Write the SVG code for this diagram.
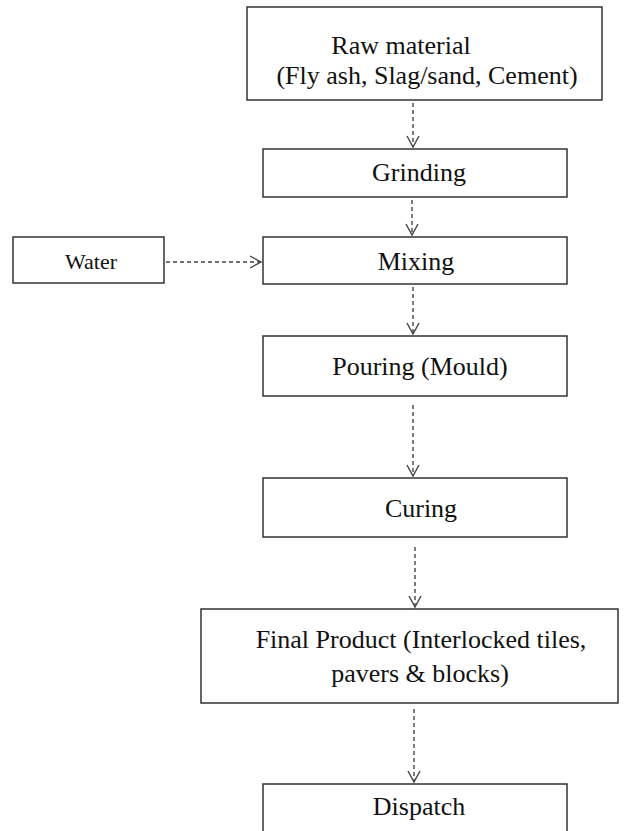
<svg xmlns="http://www.w3.org/2000/svg" width="628" height="831" viewBox="0 0 628 831">
<defs>
<style>
.box{fill:#fff;stroke:#333;stroke-width:1.5}
.t{font-family:"Liberation Serif","Times New Roman",serif;font-size:26px;fill:#111;text-anchor:middle}
.ts{font-family:"Liberation Serif","Times New Roman",serif;font-size:22px;fill:#111;text-anchor:middle}
.c{fill:none;stroke:#444;stroke-width:1.4;stroke-dasharray:4 3}
</style>
<marker id="ah" markerWidth="14" markerHeight="14" viewBox="0 0 14 14" refX="12" refY="7" orient="auto" markerUnits="userSpaceOnUse">
<path d="M1,1 L12,7 L1,13" fill="none" stroke="#444" stroke-width="1.4"/>
</marker>
</defs>
<rect width="628" height="831" fill="#fff"/>
<g id="raw">
<rect class="box" x="247" y="7" width="355" height="93"/>
<text class="t" x="401" y="54">Raw material</text>
<text class="t" x="427" y="84">(Fly ash, Slag/sand, Cement)</text>
</g>
<g id="grinding">
<rect class="box" x="263" y="149" width="304" height="48"/>
<text class="t" x="419" y="181">Grinding</text>
</g>
<g id="water">
<rect class="box" x="13" y="237" width="151" height="46"/>
<text class="ts" x="91" y="269">Water</text>
</g>
<g id="mixing">
<rect class="box" x="263" y="237" width="304" height="47"/>
<text class="t" x="416" y="270">Mixing</text>
</g>
<g id="pouring">
<rect class="box" x="263" y="336" width="304" height="60"/>
<text class="t" x="420" y="375">Pouring (Mould)</text>
</g>
<g id="curing">
<rect class="box" x="263" y="478" width="304" height="59"/>
<text class="t" x="421" y="517">Curing</text>
</g>
<g id="final">
<rect class="box" x="201" y="609" width="417" height="94"/>
<text class="t" x="421" y="648">Final Product (Interlocked tiles,</text>
<text class="t" x="420" y="682">pavers &amp; blocks)</text>
</g>
<g id="dispatch">
<rect class="box" x="263" y="784" width="304" height="60"/>
<text class="t" x="419" y="815">Dispatch</text>
</g>
<g id="connectors">
<line class="c" x1="413" y1="103" x2="413" y2="147" marker-end="url(#ah)"/>
<line class="c" x1="412" y1="200" x2="412" y2="235" marker-end="url(#ah)"/>
<line class="c" x1="166" y1="262" x2="261" y2="262" marker-end="url(#ah)"/>
<line class="c" x1="413" y1="287" x2="413" y2="334" marker-end="url(#ah)"/>
<line class="c" x1="413" y1="405" x2="413" y2="476" marker-end="url(#ah)"/>
<line class="c" x1="415" y1="547" x2="415" y2="607" marker-end="url(#ah)"/>
<line class="c" x1="414" y1="709" x2="414" y2="782" marker-end="url(#ah)"/>
</g>
</svg>
